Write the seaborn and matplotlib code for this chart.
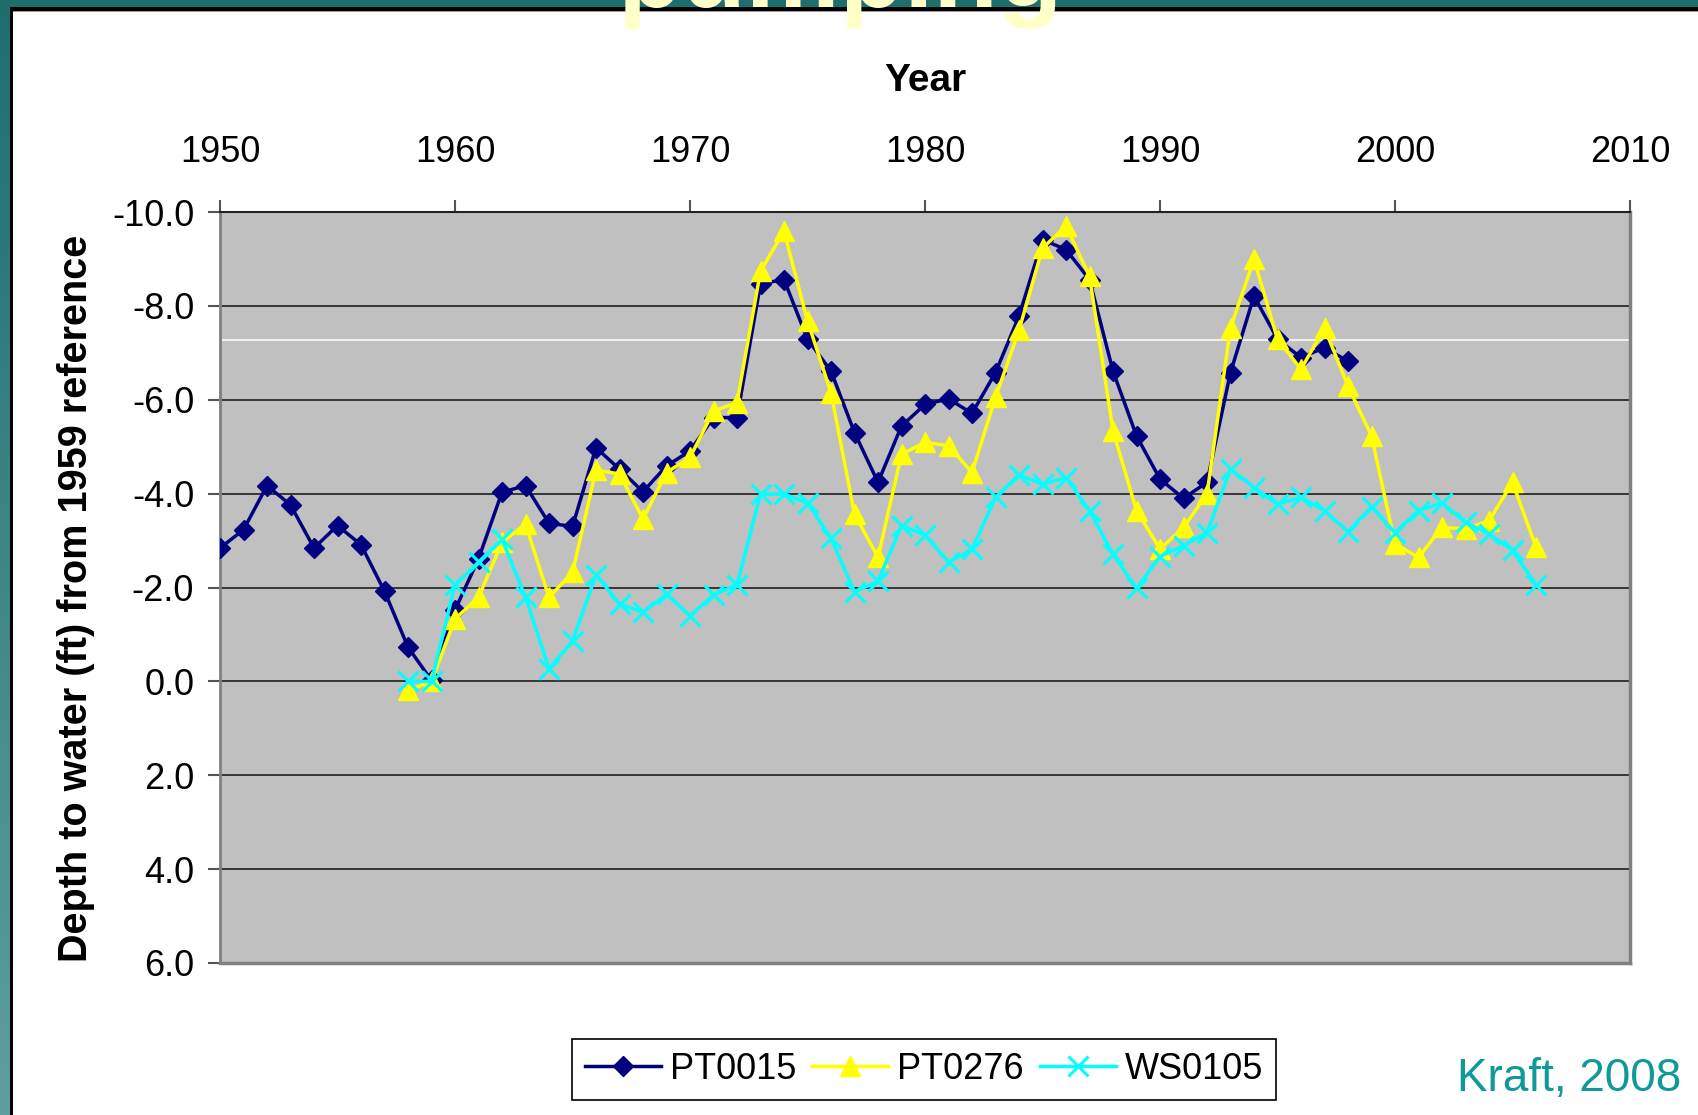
import numpy as np
import matplotlib
matplotlib.use("Agg")
import matplotlib.pyplot as plt
from matplotlib.patches import Rectangle
from matplotlib.colors import LinearSegmentedColormap
import seaborn as sns

# ---- data: depth to water (ft) relative to the 1959 reference level ----
years_pt0015 = list(range(1950, 1999))
pt0015 = [-2.84, -3.23, -4.17, -3.76, -2.84, -3.32, -2.91, -1.92, -0.73, -0.02,
          -1.52, -2.61, -4.03, -4.17, -3.37, -3.30, -4.98, -4.52, -4.04, -4.59,
          -4.91, -5.62, -5.62, -8.47, -8.56, -7.29, -6.61, -5.30, -4.24, -5.44,
          -5.90, -6.02, -5.71, -6.58, -7.78, -9.41, -9.20, -8.56, -6.61, -5.23,
          -4.31, -3.90, -4.24, -6.58, -8.21, -7.29, -6.90, -7.11, -6.82]

years_pt0276 = list(range(1958, 2007))
pt0276 = [0.19, 0.00, -1.33, -1.79, -2.96, -3.35, -1.79, -2.32, -4.50, -4.42,
          -3.46, -4.45, -4.77, -5.76, -5.94, -8.74, -9.59, -7.68, -6.15, -3.56,
          -2.64, -4.84, -5.09, -5.02, -4.45, -6.05, -7.48, -9.23, -9.70, -8.63,
          -5.34, -3.64, -2.82, -3.28, -3.99, -7.53, -8.99, -7.29, -6.65, -7.53,
          -6.29, -5.23, -2.93, -2.64, -3.28, -3.25, -3.42, -4.24, -2.86]

years_ws0105 = list(range(1958, 2007))
ws0105 = [0.00, 0.00, -2.06, -2.54, -3.03, -1.79, -0.27, -0.86, -2.27, -1.65,
          -1.47, -1.86, -1.40, -1.84, -2.06, -3.99, -3.99, -3.80, -3.05, -1.91,
          -2.13, -3.32, -3.12, -2.54, -2.81, -3.92, -4.40, -4.20, -4.34, -3.64,
          -2.71, -1.98, -2.66, -2.89, -3.17, -4.52, -4.13, -3.78, -3.92, -3.64,
          -3.19, -3.72, -3.17, -3.64, -3.80, -3.39, -3.14, -2.79, -2.06]

series_names = ["PT0015", "PT0276", "WS0105"]

x_ticks = [1950, 1960, 1970, 1980, 1990, 2000, 2010]
y_ticks = [-10, -8, -6, -4, -2, 0, 2, 4, 6]
y_tick_labels = ["-10.0", "-8.0", "-6.0", "-4.0", "-2.0", "0.0", "2.0", "4.0", "6.0"]

# ---- figure ----
W, H = 1698, 1115
fig = plt.figure(figsize=(W / 100, H / 100), dpi=100, facecolor="white")
plt.rcParams["font.family"] = ["Liberation Sans", "DejaVu Sans"]

ax = fig.add_axes([220 / W, 1 - 963 / H, (1630 - 220) / W, (963 - 212) / H])
ax.set_facecolor("#C0C0C0")

fs = 26

# horizontal gridlines and a thin white rule across the plot area
for yv in y_ticks[1:-1]:
    ax.axhline(yv, color="#2b2b2b", lw=1.3, zorder=1)
ax.axhline(-7.28, color="white", lw=1.1, zorder=1)

sns.lineplot(x=years_pt0015, y=pt0015, ax=ax, color="#000080", lw=2.5,
             marker="D", markersize=10.5, markeredgecolor="#000080", markeredgewidth=1,
             label=series_names[0], zorder=3)
sns.lineplot(x=years_pt0276, y=pt0276, ax=ax, color="#FFFF00", lw=2.5,
             marker="^", markersize=14, markeredgecolor="#FFFF00", markeredgewidth=1,
             label=series_names[1], zorder=4)
sns.lineplot(x=years_ws0105, y=ws0105, ax=ax, color="#00FFFF", lw=2.5,
             marker="x", markersize=14, markeredgecolor="#00FFFF", markeredgewidth=2.2,
             label=series_names[2], zorder=5)

ax.set_xlim(1950, 2010)
ax.set_ylim(6, -10)
ax.grid(False)

ax.xaxis.tick_top()
ax.xaxis.set_label_position("top")
ax.set_xticks(x_ticks)
ax.set_xticklabels([str(v) for v in x_ticks])
ax.set_yticks(y_ticks)
ax.set_yticklabels(y_tick_labels)
ax.tick_params(axis="x", length=8.6, width=1.5, color="#555555", pad=22,
               labelsize=fs, labelcolor="black")
ax.tick_params(axis="y", length=8.6, width=1.5, color="#555555", pad=10,
               labelsize=fs, labelcolor="black")

ax.set_xlabel("Year", fontsize=28, fontweight="bold", labelpad=31)
ax.set_ylabel("Depth to water (ft) from 1959 reference", fontsize=28.5,
              fontweight="bold")
ax.yaxis.label.set(va="center", ha="center")
ax.yaxis.set_label_coords((76 - 220) / (1630 - 220), 1 - (598 - 212) / (963 - 212))

for side, col, lw in [("left", "#808080", 2), ("right", "#808080", 2.5),
                      ("bottom", "#808080", 2.5), ("top", "#222222", 1.5)]:
    ax.spines[side].set_color(col)
    ax.spines[side].set_linewidth(lw)

leg = ax.legend(loc="center", bbox_to_anchor=(924 / W, 1 - 1069.5 / H),
                bbox_transform=fig.transFigure, ncol=3, fontsize=fs,
                frameon=True, fancybox=False, edgecolor="black",
                handlelength=2.1, handletextpad=0.25, columnspacing=0.45,
                borderpad=0.35, borderaxespad=0)
leg.get_frame().set_linewidth(1.2)
leg.get_frame().set_facecolor("white")
leg.get_frame().set_alpha(1)

fig.text(1681 / W, 1 - 1079 / H, "Kraft, 2008", color="#0F9999", fontsize=33,
         ha="right", va="center")

# slide frame: teal gradient on the left, teal strip on top, black edges
grad_ax = fig.add_axes([0, 0, 10 / W, 1])
cmap = LinearSegmentedColormap.from_list("teal", ["#1F6E6E", "#5C9F9F"])
grad_ax.imshow(np.linspace(0, 1, 256).reshape(-1, 1), aspect="auto", cmap=cmap,
               extent=(0, 1, 1, 0))
grad_ax.set_axis_off()
fig.patches.append(Rectangle((0, 1 - 7 / H), 1, 7 / H, transform=fig.transFigure,
                             facecolor="#1F6E6E", edgecolor="none", zorder=5))
fig.patches.append(Rectangle((10 / W, 1 - 10.5 / H), 1, 3.5 / H,
                             transform=fig.transFigure, facecolor="black",
                             edgecolor="none", zorder=6))
fig.patches.append(Rectangle((10 / W, 1 - 11.5 / H), 1, 1 / H,
                             transform=fig.transFigure, facecolor="#999999",
                             edgecolor="none", zorder=6))
fig.patches.append(Rectangle((10 / W, 0), 3 / W, 1 - 7 / H,
                             transform=fig.transFigure, facecolor="black",
                             edgecolor="none", zorder=6))

# slide title, mostly above the visible area
fig.text(840 / W, 1 - 7 / H, "pumping", color="#FFFFC8", fontsize=76,
         fontweight="bold", ha="center", va="baseline", zorder=10)

fig.savefig("out.png", dpi=100, facecolor="white")
